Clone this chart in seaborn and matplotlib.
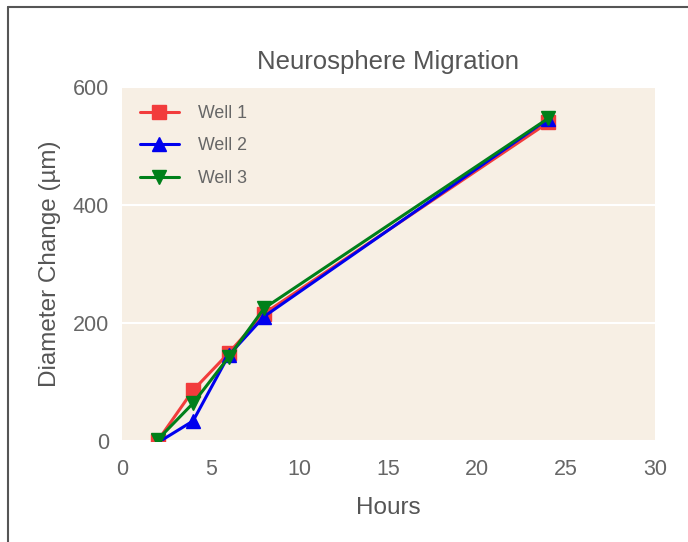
import numpy as np
import pandas as pd
from matplotlib import pyplot as plt
from matplotlib.lines import Line2D
import seaborn as sns

hours = [2, 4, 6, 8, 24]
well1 = [0, 86, 149, 216, 540]
well2 = [-3, 34, 145, 211, 546]
well3 = [2, 64, 142, 225, 547]
wells = ['Well 1', 'Well 2', 'Well 3']

df = pd.DataFrame({'Hours': hours * 3,
                   'Diameter': well1 + well2 + well3,
                   'Well': [w for w in wells for _ in hours]})

sns.set_style('darkgrid', {'axes.facecolor': '#f7efe4', 'grid.color': 'white'})
plt.rcParams['font.family'] = ['Liberation Sans', 'DejaVu Sans']
gray = '#555555'

fig = plt.figure(figsize=(6.88, 5.42), dpi=100)
ax = fig.add_axes([0.1773, 0.1863, 0.7747, 0.6532])

colors = {'Well 1': '#f23c3c', 'Well 2': '#0000ee', 'Well 3': '#00801a'}
markers = {'Well 1': 's', 'Well 2': '^', 'Well 3': 'v'}
for w in wells:
    sub = df[df.Well == w]
    ax.plot(sub.Hours, sub.Diameter, color=colors[w], marker=markers[w],
            markersize=10, linewidth=2.2, label=w)

ax.set_xlim(0, 30)
ax.set_ylim(0, 600)
ax.set_xticks([0, 5, 10, 15, 20, 25, 30])
ax.set_yticks([0, 200, 400, 600])
ax.xaxis.grid(False)
ax.yaxis.grid(True, color='white', linewidth=1.5)
ax.tick_params(labelsize=15.5, colors='#666666', length=0)
ax.tick_params(axis='x', pad=13)
ax.tick_params(axis='y', pad=9.5)
ax.set_xlabel('Hours', fontsize=17.5, color=gray, labelpad=12)
ax.set_ylabel('Diameter Change (µm)', fontsize=17.5, color=gray, labelpad=8)
ax.set_title('Neurosphere Migration', fontsize=18.5, color=gray, pad=13)
for s in ax.spines.values():
    s.set_visible(False)

leg = ax.legend(loc=2, frameon=False, fontsize=12.8, handlelength=2.2,
                handletextpad=1.1, labelspacing=0.88, borderaxespad=0.6)
for t in leg.get_texts():
    t.set_color('#666666')

# thin frame of the original screenshot
fig.add_artist(Line2D([0.011, 0.011], [0, 0.988], color='#555555', linewidth=1.5, transform=fig.transFigure))
fig.add_artist(Line2D([0.011, 1], [0.988, 0.988], color='#555555', linewidth=1.5, transform=fig.transFigure))

plt.savefig('out.png', dpi=100)
